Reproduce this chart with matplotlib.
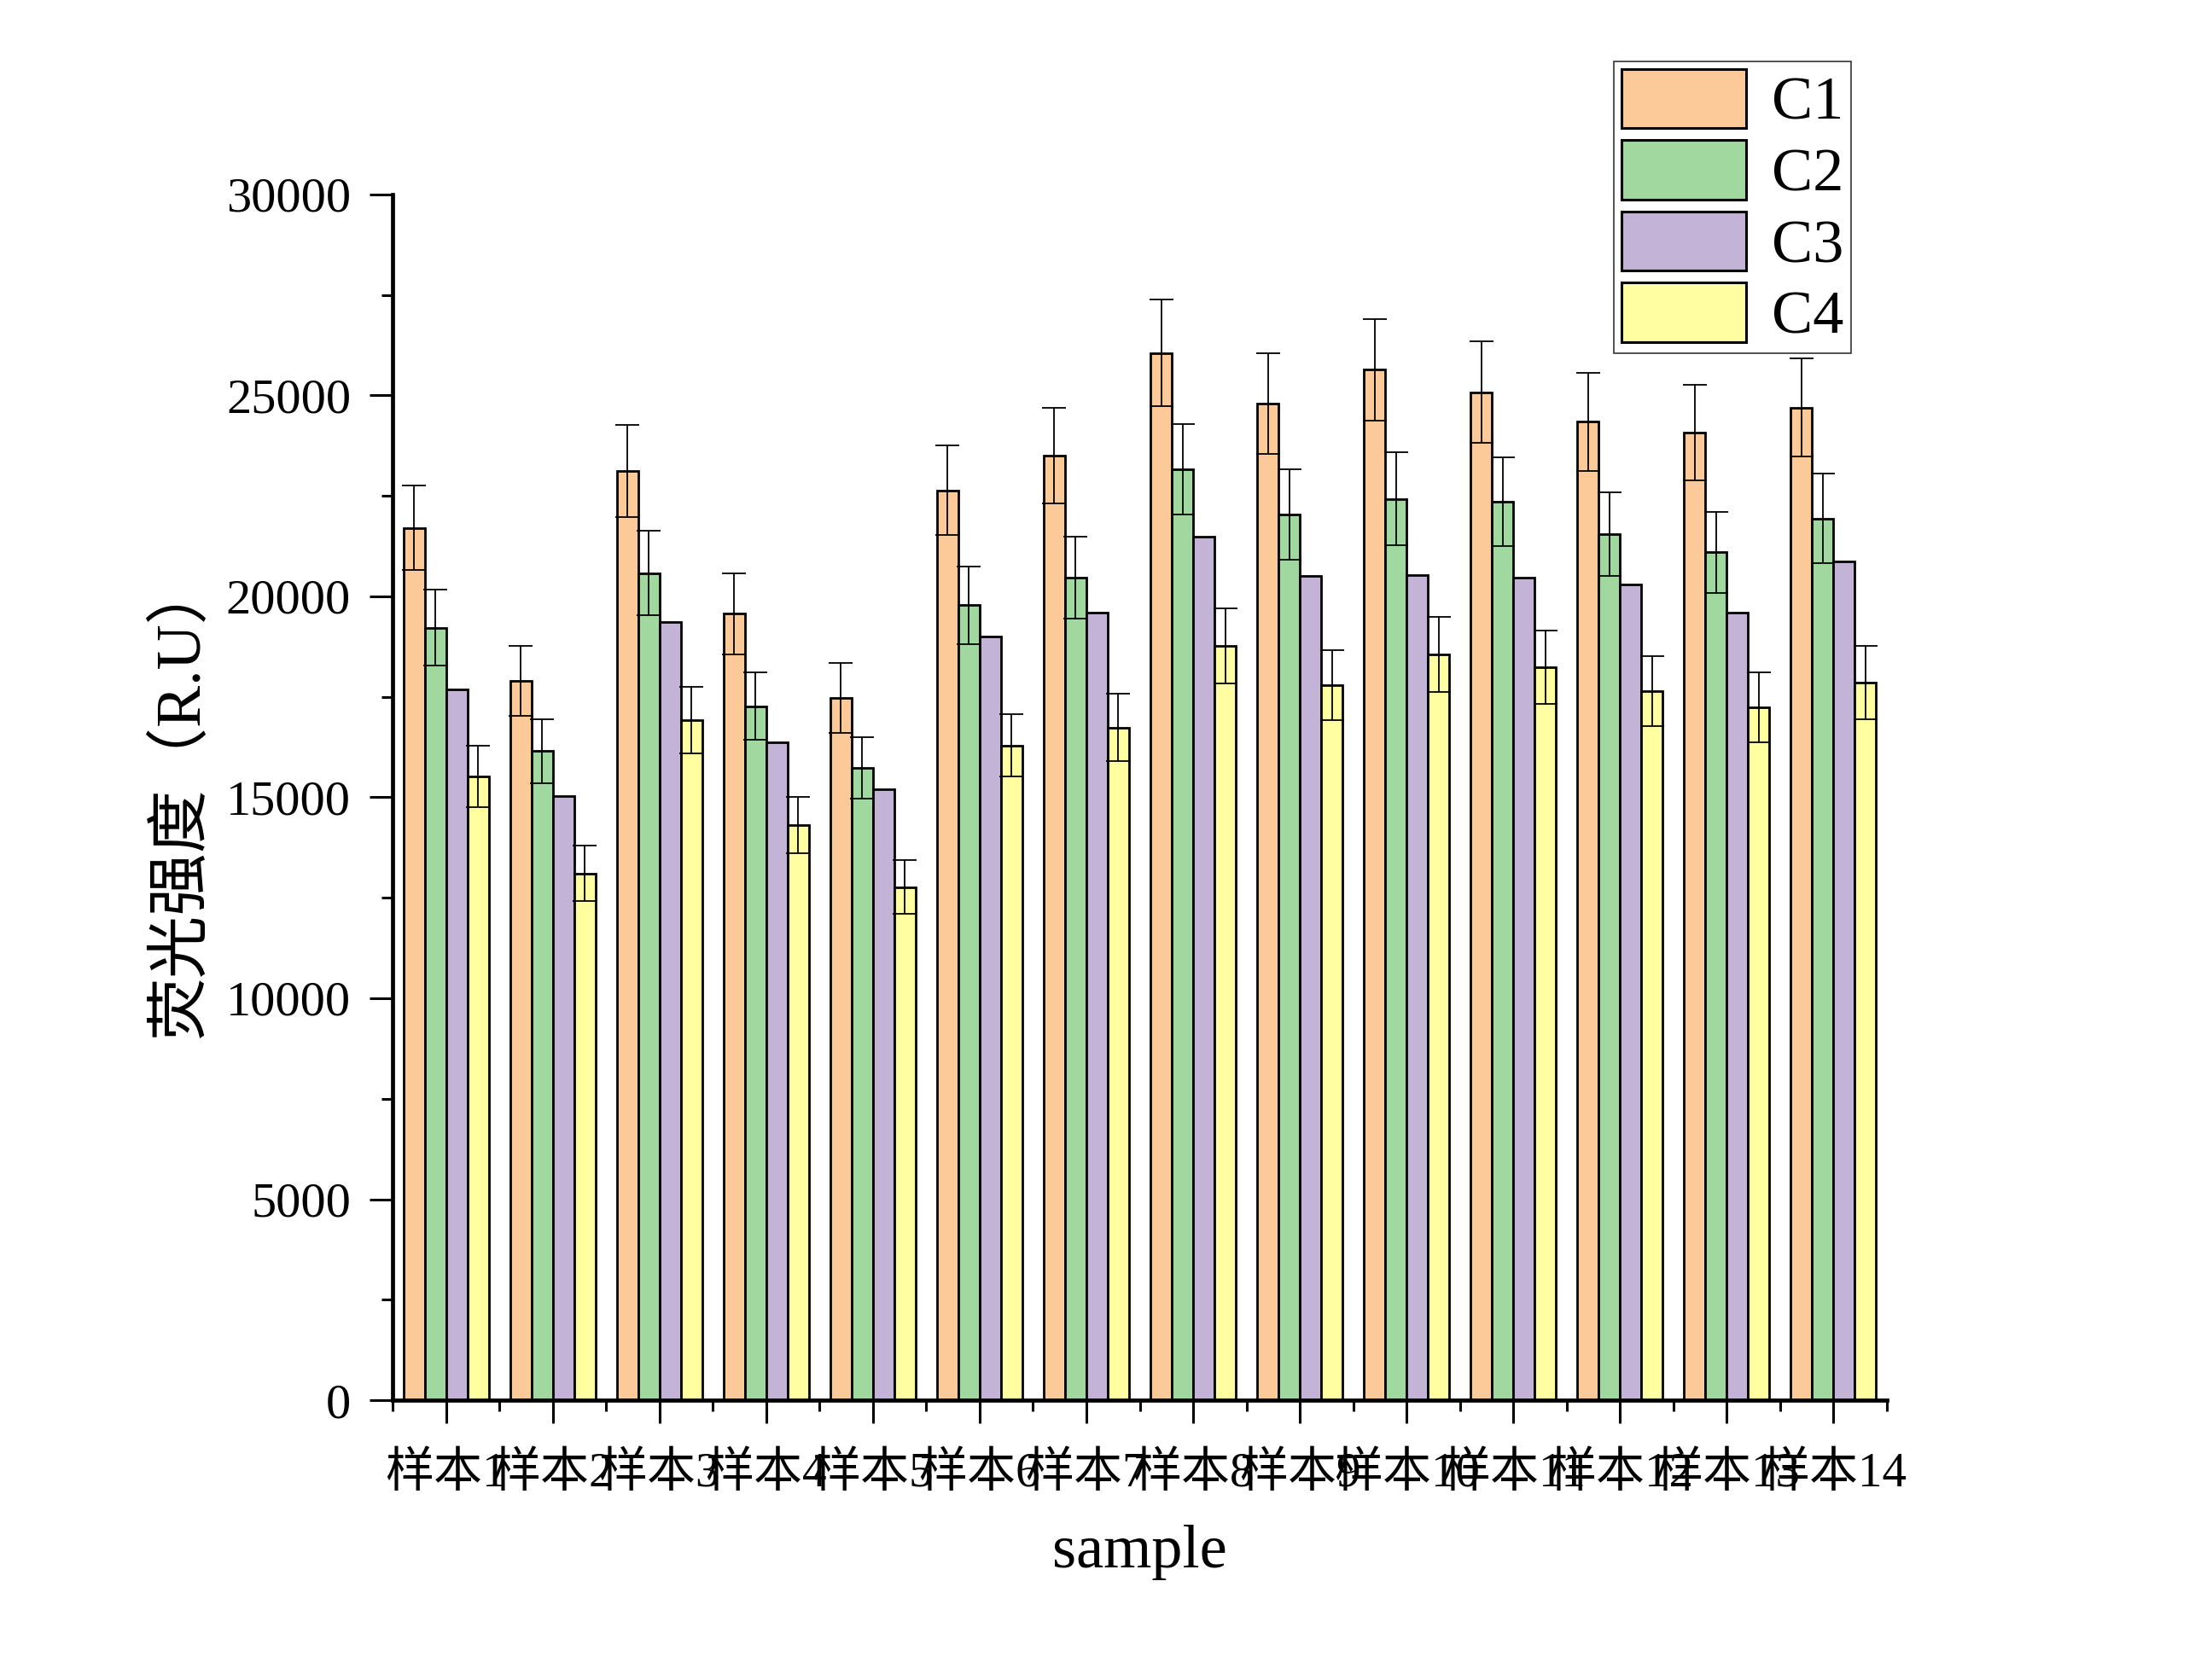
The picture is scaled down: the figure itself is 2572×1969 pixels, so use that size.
import matplotlib
matplotlib.use("Agg")
import matplotlib.pyplot as plt
import numpy as np
from matplotlib.ticker import MultipleLocator, FixedLocator

samples = ["样本1", "样本2", "样本3", "样本4", "样本5", "样本6", "样本7",
           "样本8", "样本9", "样本10", "样本11", "样本12", "样本13", "样本14"]
series_names = ["C1", "C2", "C3", "C4"]

c1 = [21700, 17890, 23120, 19570, 17480, 22640, 23510, 26060, 24800, 25640, 25080, 24350, 24070, 24700]
c1_err = [1050, 870, 1150, 1010, 870, 1110, 1190, 1320, 1260, 1260, 1260, 1220, 1190, 1220]
c2 = [19220, 16150, 20580, 17270, 15730, 19780, 20470, 23160, 22040, 22430, 22360, 21560, 21100, 21940]
c2_err = [940, 800, 1050, 830, 770, 970, 1020, 1120, 1120, 1150, 1110, 1040, 1010, 1110]
c3 = [17680, 15030, 19360, 16360, 15210, 19010, 19600, 21490, 20510, 20540, 20470, 20300, 19600, 20860]
c4 = [15520, 13110, 16920, 14300, 12770, 16290, 16740, 18770, 17790, 18560, 18240, 17650, 17230, 17860]
c4_err = [770, 700, 830, 700, 660, 770, 840, 940, 870, 940, 910, 870, 870, 910]

values = [c1, c2, c3, c4]
errors = [c1_err, c2_err, None, c4_err]
colors = ["#FCC999", "#A0D89F", "#C3B3D6", "#FFFEA1"]

serif = ["Liberation Serif", "Noto Sans CJK SC"]
plt.rcParams["font.family"] = serif

W, H = 2572, 1969
fig = plt.figure(figsize=(W / 200, H / 200), dpi=200)
ax = fig.add_axes([460 / W, 1 - 1641 / H, (2211 - 460) / W, (1641 - 228) / H])

x = np.arange(1, len(samples) + 1)
w = 0.2
offsets = [-1.5 * w, -0.5 * w, 0.5 * w, 1.5 * w]
handles = []
for vals, err, col, off, name in zip(values, errors, colors, offsets, series_names):
    b = ax.bar(x + off, vals, width=w, color=col, edgecolor="black", linewidth=1.0,
               label=name, zorder=2)
    handles.append(b)
    if err is not None:
        ax.errorbar(x + off, vals, yerr=err, fmt="none", ecolor="black",
                    elinewidth=0.65, capsize=5, capthick=0.65, zorder=3)

ax.set_xlim(0.5, len(samples) + 0.5)
ax.set_ylim(0, 30000)
ax.set_xticks(x)
ax.set_xticklabels(samples, fontsize=20.5, family=serif)
ax.xaxis.set_minor_locator(FixedLocator(np.arange(0.5, len(samples) + 1, 1.0)))
ax.yaxis.set_major_locator(MultipleLocator(5000))
ax.yaxis.set_minor_locator(MultipleLocator(2500))
ax.tick_params(axis="both", which="major", direction="out", length=9.6, width=1.1, pad=8)
ax.tick_params(axis="both", which="minor", direction="out", length=4.8, width=1.1)
ax.tick_params(axis="x", which="major", pad=12)
ax.tick_params(axis="y", labelsize=21)

for s in ["top", "right"]:
    ax.spines[s].set_visible(False)
for s in ["left", "bottom"]:
    ax.spines[s].set_linewidth(1.7)

ax.set_xlabel("sample", fontsize=26, labelpad=12)
ax.set_ylabel("荧光强度（R.U）", fontsize=26.5, labelpad=6)

leg = ax.legend(handles=handles, labels=series_names, loc="upper left",
                bbox_to_anchor=(1891 / W, 1 - 72 / H), bbox_transform=fig.transFigure,
                fontsize=26, frameon=True, fancybox=False, edgecolor="black",
                handlelength=2.02, handleheight=1.1, handletextpad=0.42,
                labelspacing=0.13, borderpad=0.12, borderaxespad=0)
leg.get_frame().set_linewidth(0.6)
for p in leg.get_patches():
    p.set_linewidth(1.1)

fig.savefig("out.png", dpi=200)
